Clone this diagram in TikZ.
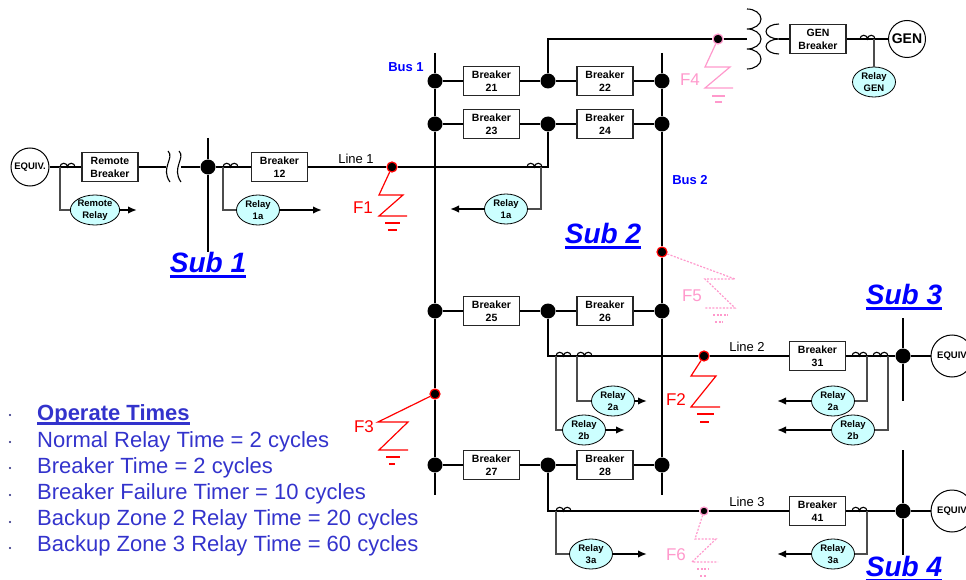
\documentclass[tikz,border=0pt]{standalone}
\usepackage{fontspec}
\setmainfont{Liberation Sans}
\usetikzlibrary{shapes.geometric,arrows.meta}
\definecolor{relayfill}{HTML}{CCFFFF}
\definecolor{faultpink}{HTML}{FF99CC}
\definecolor{busblue}{HTML}{0000FF}
\definecolor{timesblue}{HTML}{3333CC}
\newcommand\ulbox[3]{\setbox0\hbox{#3}\rlap{\rule[#1]{\wd0}{#2}}\box0}

\begin{document}
\begin{tikzpicture}[x=1pt,y=-1pt,
		wire/.style={line width=1.8pt},
		brk/.style={draw=black!85,line width=1.1pt,fill=white,minimum width=56pt,minimum height=29pt,inner sep=0pt,align=center,font=\fontsize{10.5}{13}\selectfont\bfseries},
		relay/.style={ellipse,draw,line width=0.8pt,fill=relayfill,minimum width=43pt,minimum height=30pt,inner sep=0pt,align=center,font=\fontsize{9.5}{11.5}\selectfont\bfseries},
		busdot/.style={circle,fill=black,minimum size=15pt,inner sep=0pt},
		fault/.style={circle,fill=black,draw=#1,line width=1.2pt,minimum size=10pt,inner sep=0pt},
		source/.style={circle,draw,line width=1pt,fill=white,minimum size=#1,inner sep=0pt,font=\fontsize{9.5}{11}\selectfont\bfseries},
		feed/.style={line width=1.2pt,black!70},
		trip/.style={line width=1.8pt,-{Latex[length=9pt,width=7.5pt]}},
		ctline/.style={line width=1.1pt},
		zig/.style={draw=#1,line width=1.2pt},
		zigdash/.style={zig=faultpink,dash pattern=on 2pt off 1.5pt},
		sublabel/.style={busblue,anchor=base,font=\fontsize{28}{30}\selectfont\bfseries\itshape},
		buslabel/.style={busblue,font=\fontsize{13}{14}\selectfont\bfseries},
		linelabel/.style={font=\fontsize{13}{14}\selectfont},
		flabel/.style={#1,font=\fontsize{17}{18}\selectfont},
		optext/.style={timesblue,anchor=base west,inner sep=0pt,font=\fontsize{22}{24}\selectfont}]
	\useasboundingbox (0,0) rectangle (966,580);
	\def\ctPath{arc[start angle=180,end angle=0,radius=3.75pt] arc[start angle=180,end angle=0,radius=3.75pt]}

	% Sub 1 and the remote end
	\node[source=38pt] (eqL) at (30,167) {EQUIV.};
	\node[brk] (rbrk) at (110,167) {Remote\\Breaker};
	\coordinate (cutL) at (166,167);
	\coordinate (cutR) at (181,167);
	\node[busdot] (s1) at (208,167) {};
	\coordinate (s1top) at (208,138);
	\coordinate (s1bot) at (208,252);
	\node[brk] (b12) at (279.5,167) {Breaker\\12};
	\node[relay] (rlR) at (95,210) {Remote\\Relay};
	\node[relay] (rl1a) at (258,210) {Relay\\1a};
	\coordinate (ctR) at (60,167);
	\coordinate (ct1a) at (223,167);
	\coordinate (tR) at (137,210);
	\coordinate (t1a) at (322,210);
	\node[sublabel] (sub1) at (208,272) {\ulbox{-5.5pt}{3pt}{Sub 1}};

	% Sub 2 buses and breakers
	\coordinate (b1top) at (435,53);
	\coordinate (b1bot) at (435,495);
	\coordinate (b2top) at (662,53);
	\coordinate (b2bot) at (662,495);
	\node[buslabel] (bus1) at (406,67) {Bus 1};
	\node[buslabel] (bus2) at (690,180) {Bus 2};
	\node[busdot] (r1w) at (435,81) {};
	\node[busdot] (r1m) at (548,81) {};
	\node[busdot] (r1e) at (662,81) {};
	\node[busdot] (r2w) at (435,124) {};
	\node[busdot] (r2m) at (548,124) {};
	\node[busdot] (r2e) at (662,124) {};
	\node[busdot] (r3w) at (435,311) {};
	\node[busdot] (r3m) at (548,311) {};
	\node[busdot] (r3e) at (662,311) {};
	\node[busdot] (r4w) at (435,465) {};
	\node[busdot] (r4m) at (548,465) {};
	\node[busdot] (r4e) at (662,465) {};
	\node[brk] (b21) at (491.5,81) {Breaker\\21};
	\node[brk] (b22) at (605,81) {Breaker\\22};
	\node[brk] (b23) at (491.5,124) {Breaker\\23};
	\node[brk] (b24) at (605,124) {Breaker\\24};
	\node[brk] (b25) at (491.5,311) {Breaker\\25};
	\node[brk] (b26) at (605,311) {Breaker\\26};
	\node[brk] (b27) at (491.5,465) {Breaker\\27};
	\node[brk] (b28) at (605,465) {Breaker\\28};
	\node[sublabel] (sub2) at (603,243) {\ulbox{-5.5pt}{3pt}{Sub 2}};

	% line 1
	\node[fault=red] (f1) at (392,167) {};
	\coordinate (l1end) at (548,167);
	\coordinate (ct1b) at (541,167);
	\node[linelabel] (line1) at (356,159) {Line 1};
	\node[relay] (rl1b) at (506,209) {Relay\\1a};
	\coordinate (t1b) at (450,209);

	% generator
	\coordinate (g0) at (548,39);
	\node[fault=faultpink] (f4) at (718,39) {};
	\coordinate (tx1) at (747,39);
	\coordinate (tx2) at (779,39);
	\node[brk] (gbrk) at (818,39) {GEN\\Breaker};
	\node[source=37pt,font=\fontsize{14}{15}\selectfont\bfseries] (gen) at (907,39) {GEN};
	\coordinate (ctG) at (874,39);
	\node[relay] (rlG) at (874,82) {Relay\\GEN};

	% line 2 and Sub 3
	\coordinate (c2) at (548,356);
	\node[fault=red] (f2) at (704,356) {};
	\node[brk] (b31) at (817.5,356) {Breaker\\31};
	\node[busdot] (s3) at (903,356) {};
	\coordinate (s3top) at (903,318);
	\coordinate (s3bot) at (903,401);
	\node[source=42pt] (eq3) at (952,356) {EQUIV};
	\node[linelabel] (line2) at (747,347) {Line 2};
	\node[relay] (rl2a) at (613,401) {Relay\\2a};
	\node[relay] (rl2b) at (584,430) {Relay\\2b};
	\node[relay] (rl2aR) at (833,401) {Relay\\2a};
	\node[relay] (rl2bR) at (853,430) {Relay\\2b};
	\coordinate (ct2b) at (556,356);
	\coordinate (ct2a) at (577,356);
	\coordinate (ct2aR) at (867,356);
	\coordinate (ct2bR) at (888,356);
	\coordinate (t2a) at (647,401);
	\coordinate (t2b) at (625,430);
	\coordinate (t2aR) at (777,401);
	\coordinate (t2bR) at (777,430);
	\node[sublabel] (sub3) at (904,304) {\ulbox{-5.5pt}{3pt}{Sub 3}};

	% line 3 and Sub 4
	\coordinate (c3) at (548,511);
	\node[fault=faultpink,minimum size=8pt] (f6) at (704,511) {};
	\node[brk] (b41) at (817.5,511) {Breaker\\41};
	\node[busdot] (s4) at (903,511) {};
	\coordinate (s4top) at (903,450);
	\coordinate (s4bot) at (903,555);
	\node[source=42pt] (eq4) at (952,511) {EQUIV};
	\node[linelabel] (line3) at (747,502) {Line 3};
	\node[relay] (rl3a) at (591,554) {Relay\\3a};
	\node[relay] (rl3aR) at (833,554) {Relay\\3a};
	\coordinate (ct3) at (556,511);
	\coordinate (ct3R) at (867,511);
	\coordinate (t3) at (647,554);
	\coordinate (t3R) at (777,554);
	\node[sublabel] (sub4) at (904,576) {\ulbox{-5.5pt}{3pt}{Sub 4}};

	% faults on the buses
	\node[fault=red] (f3) at (435,394) {};
	\node[fault=red] (f5) at (662,252) {};

	% wires
	\draw[wire] (eqL) -- (rbrk) -- (cutL);
	\draw[wire] (cutR) -- (s1) -- (b12) -- (f1) -- (l1end) -- (r2m);
	\draw[wire] (s1top) -- (s1) -- (s1bot);
	\draw[ctline] (168,151) .. controls (175,158) and (160,168) .. (170,182);
	\draw[ctline] (179,151) .. controls (186,158) and (171,168) .. (181,182);
	\draw[wire] (b1top) -- (r1w) -- (r2w) -- (r3w) -- (f3) -- (r4w) -- (b1bot);
	\draw[wire] (b2top) -- (r1e) -- (r2e) -- (f5) -- (r3e) -- (r4e) -- (b2bot);
	\draw[wire] (r1w) -- (b21) -- (r1m) -- (b22) -- (r1e);
	\draw[wire] (r2w) -- (b23) -- (r2m) -- (b24) -- (r2e);
	\draw[wire] (r3w) -- (b25) -- (r3m) -- (b26) -- (r3e);
	\draw[wire] (r4w) -- (b27) -- (r4m) -- (b28) -- (r4e);
	\draw[wire] (r1m) -- (g0) -- (f4) -- (tx1);
	\draw[wire] (tx2) -- (gbrk) -- (gen);
	\draw[ctline] (747,9) arc[start angle=90,end angle=-90,x radius=14pt,y radius=10pt] arc[start angle=90,end angle=-90,x radius=14pt,y radius=10pt] arc[start angle=90,end angle=-90,x radius=14pt,y radius=10pt];
	\draw[ctline] (779,24) arc[start angle=90,end angle=270,x radius=13pt,y radius=7.5pt] arc[start angle=90,end angle=270,x radius=13pt,y radius=7.5pt];
	\draw[wire] (r3m) -- (c2) -- (f2) -- (b31) -- (s3) -- (eq3);
	\draw[wire] (s3top) -- (s3) -- (s3bot);
	\draw[wire] (r4m) -- (c3) -- (f6) -- (b41) -- (s4) -- (eq4);
	\draw[wire] (s4top) -- (s4) -- (s4bot);

	% current transformers
	\draw[ctline] (ctR) \ctPath;
	\draw[ctline] (ct1a) \ctPath;
	\draw[ctline] (527,167) \ctPath;
	\draw[ctline] (860,39) \ctPath;
	\draw[ctline] (ct2b) \ctPath;
	\draw[ctline] (ct2a) \ctPath;
	\draw[ctline] (852,356) \ctPath;
	\draw[ctline] (873,356) \ctPath;
	\draw[ctline] (ct3) \ctPath;
	\draw[ctline] (852,511) \ctPath;

	% relays
	\draw[feed] (ctR) |- (rlR);
	\draw[feed] (ct1a) |- (rl1a);
	\draw[feed] (ct1b) |- (rl1b);
	\draw[feed] (ctG) -- (rlG);
	\draw[feed] (ct2a) |- (rl2a);
	\draw[feed] (ct2b) |- (rl2b);
	\draw[feed] (ct2aR) |- (rl2aR);
	\draw[feed] (ct2bR) |- (rl2bR);
	\draw[feed] (ct3) |- (rl3a);
	\draw[feed] (ct3R) |- (rl3aR);
	\draw[trip] (rlR) -- (tR);
	\draw[trip] (rl1a) -- (t1a);
	\draw[trip] (rl1b) -- (t1b);
	\draw[trip] (rl2a) -- (t2a);
	\draw[trip] (rl2b) -- (t2b);
	\draw[trip] (rl2aR) -- (t2aR);
	\draw[trip] (rl2bR) -- (t2bR);
	\draw[trip] (rl3a) -- (t3);
	\draw[trip] (rl3aR) -- (t3R);

	% faults
	\draw[zig=red] (f1) -- (379,195) -- (403,195) -- (379,216) -- (407,216);
	\draw[zig=red] (385,223) -- (400,223) (388,230) -- (397,230);
	\node[flabel=red] (lf1) at (363,208) {F1};
	\draw[zig=red] (f2) -- (691,376) -- (716,376) -- (691,407) -- (720,407);
	\draw[zig=red] (697,414) -- (714,414) (700,422) -- (709,422);
	\node[flabel=red] (lf2) at (676,400) {F2};
	\draw[zig=red] (f3) -- (378,422) -- (408,422) -- (379,450) -- (408,450);
	\draw[zig=red] (386,457) -- (400,457) (389,464) -- (395,464);
	\node[flabel=red] (lf3) at (364,427) {F3};
	\draw[zig=faultpink] (f4) -- (705,67) -- (730,67) -- (705,88) -- (733,88);
	\draw[zig=faultpink] (712,96) -- (725,96) (715,102) -- (722,102);
	\node[flabel=faultpink] (lf4) at (690,80) {F4};
	\draw[zigdash] (f5) -- (735,279) -- (705,279) -- (735,308) -- (705,308);
	\draw[zigdash] (713,315) -- (728,315) (715,322) -- (723,322);
	\node[flabel=faultpink] (lf5) at (692,296) {F5};
	\draw[zigdash] (f6) -- (695,539) -- (716,539) -- (692,562) -- (718,562);
	\draw[zigdash] (697,569) -- (709,569) (700,576) -- (707,576);
	\node[flabel=faultpink] (lf6) at (676,555) {F6};

	% operate times
	\foreach \y in {415,442,468,495,522,548}
		\fill[timesblue!60!black] (10,\y) circle (1.2pt);
	\node[optext] (op0) at (37,420) {\ulbox{-4.5pt}{2.5pt}{\bfseries Operate Times}};
	\node[optext] (op1) at (37,447) {Normal Relay Time = 2 cycles};
	\node[optext] (op2) at (37,473) {Breaker Time = 2 cycles};
	\node[optext] (op3) at (37,499) {Breaker Failure Timer = 10 cycles};
	\node[optext] (op4) at (37,525) {Backup Zone 2 Relay Time = 20 cycles};
	\node[optext] (op5) at (37,551) {Backup Zone 3 Relay Time = 60 cycles};
\end{tikzpicture}
\end{document}
